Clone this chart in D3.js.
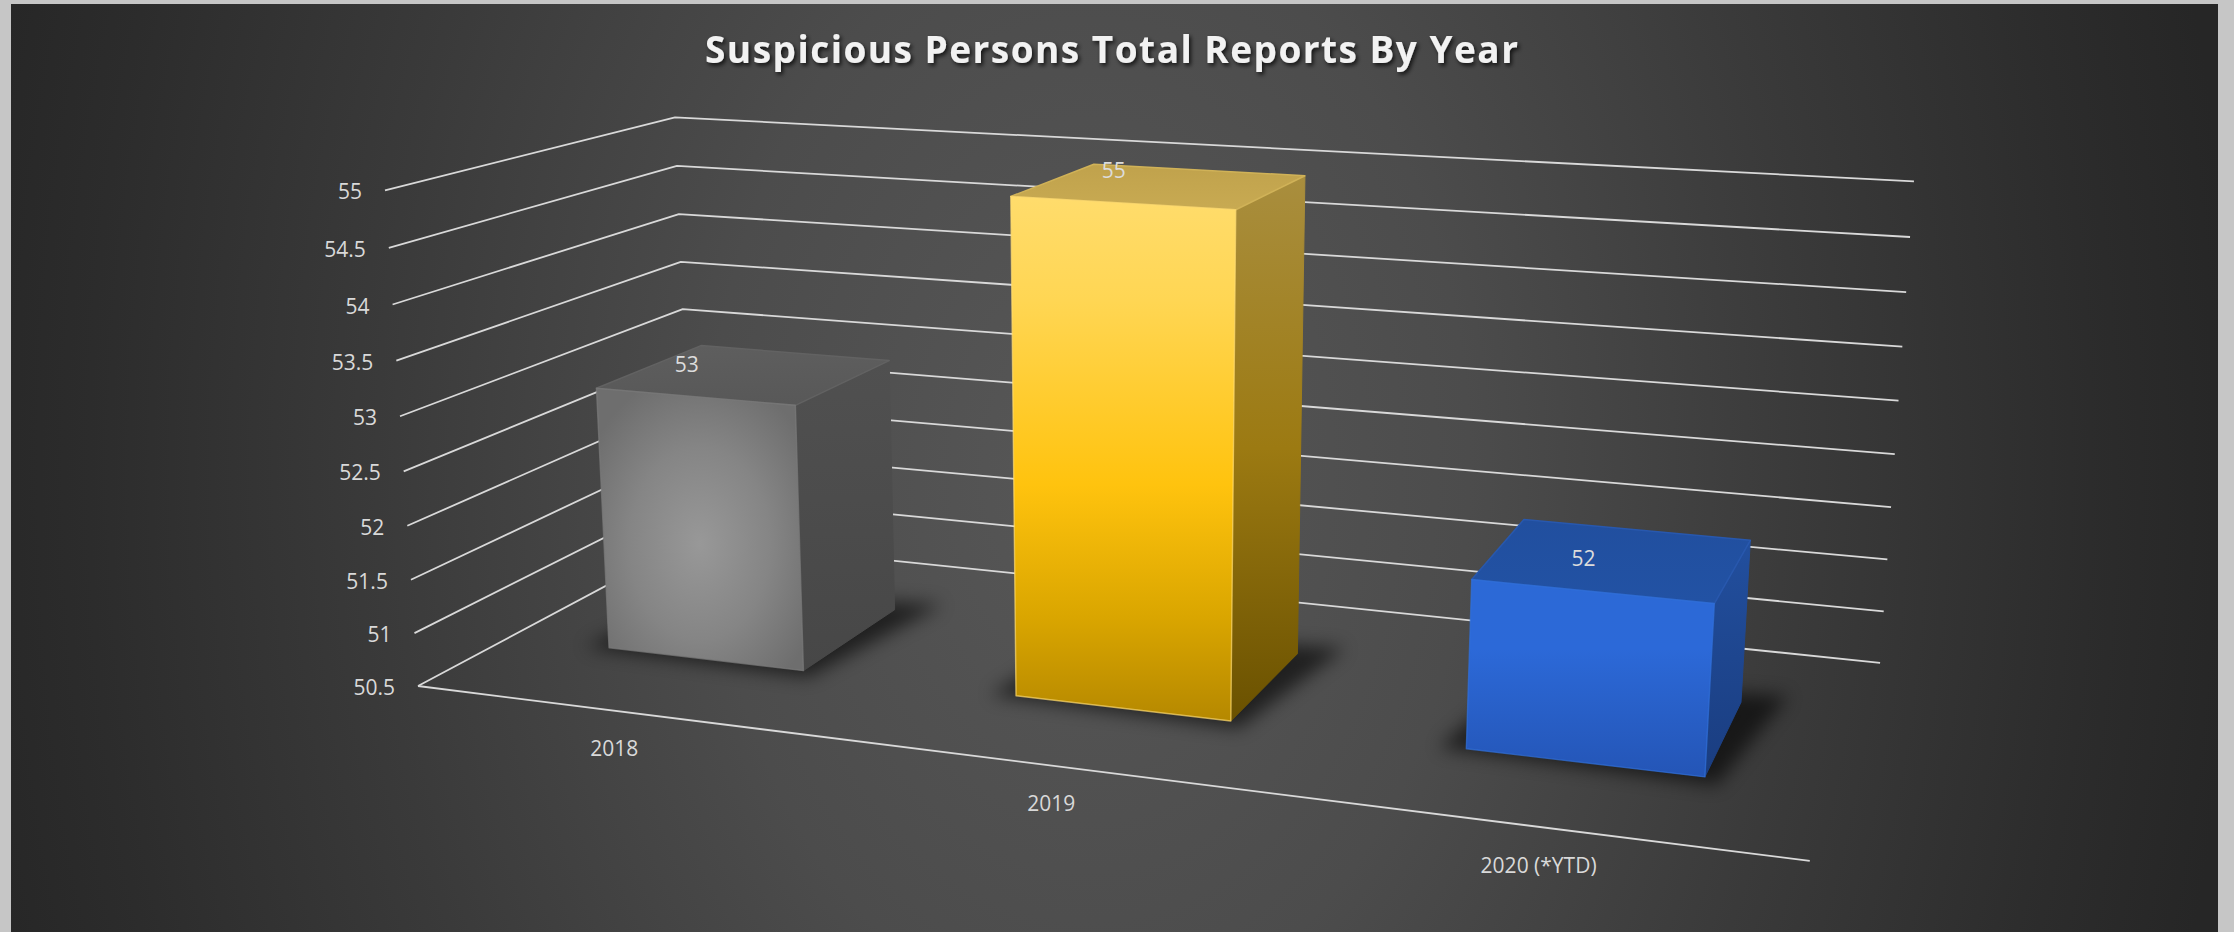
<!DOCTYPE html>
<html>
<head>
<meta charset="utf-8">
<script src="https://cdn.jsdelivr.net/npm/d3@7"></script>
<style>
  html, body { margin: 0; padding: 0; background: #c6c6c6; overflow: hidden; }
  svg { display: block; }
</style>
</head>
<body>
<svg id="chart" width="2234" height="932"></svg>
<script>
// ---- data ----
const categories = ["2018", "2019", "2020 (*YTD)"];
const reports = [53, 55, 52];
const valueTicks = [50.5, 51, 51.5, 52, 52.5, 53, 53.5, 54, 54.5, 55];
const seriesName = ["Reports"];
const chartTitle = "Suspicious Persons Total Reports By Year";

// ---- 3D view ----
// 3x4 perspective camera matrix: maps unit-cube coordinates
// (category, value, depth) to screen pixels.
const camera = [
  [1119.8, -50.1, 398.9, 418],
  [45.5, -504.0, -48.7, 686],
  [-0.15029, -0.0444, 0.1804, 1]
];
function project([X, Y, Z]) {
  const v = [X, Y, Z, 1];
  const dot = r => r[0] * v[0] + r[1] * v[1] + r[2] * v[2] + r[3] * v[3];
  const w = dot(camera[2]);
  return [dot(camera[0]) / w, dot(camera[1]) / w];
}
const pts = list => list.map(p => project(p).join(",")).join(" ");

// ---- scales ----
const x = d3.scaleBand().domain(categories).range([0, 1])
  .paddingInner(0.51).paddingOuter(0.255);
const y = d3.scaleLinear().domain([50.5, 55]).range([0, 1]);
const z = d3.scaleBand().domain(seriesName).range([0, 1])
  .paddingInner(0).paddingOuter(0.78);

const svg = d3.select("#chart");
const defs = svg.append("defs");

// ---- background ----
const bg = defs.append("radialGradient").attr("id", "bgGrad")
  .attr("gradientUnits", "userSpaceOnUse")
  .attr("cx", 1090).attr("cy", 470).attr("r", 1150)
  .attr("gradientTransform", "translate(1090,470) scale(1,1.45) translate(-1090,-470)");
[[0, "#575757"], [0.33, "#4c4c4c"], [0.62, "#3a3a3a"], [0.87, "#2c2c2c"], [1, "#262626"]]
  .forEach(([o, c]) => bg.append("stop").attr("offset", o).attr("stop-color", c));

svg.append("rect").attr("x", 11).attr("y", 4).attr("width", 2207).attr("height", 940)
  .attr("fill", "url(#bgGrad)");

// ---- filters ----
const blur = defs.append("filter").attr("id", "floorShadow")
  .attr("x", "-50%").attr("y", "-50%").attr("width", "200%").attr("height", "200%");
blur.append("feGaussianBlur").attr("stdDeviation", 9);

const ts = defs.append("filter").attr("id", "titleShadow")
  .attr("x", "-10%").attr("y", "-50%").attr("width", "120%").attr("height", "200%");
ts.append("feDropShadow").attr("dx", 2).attr("dy", 2.5).attr("stdDeviation", 2)
  .attr("flood-color", "#000").attr("flood-opacity", 0.75);

// ---- face gradients ----
function linear(id, stops, x2 = 0, y2 = 1) {
  const g = defs.append("linearGradient").attr("id", id)
    .attr("x1", 0).attr("y1", 0).attr("x2", x2).attr("y2", y2);
  stops.forEach(([o, c]) => g.append("stop").attr("offset", o).attr("stop-color", c));
}
const gr = defs.append("radialGradient").attr("id", "grayFront")
  .attr("cx", "50%").attr("cy", "55%").attr("r", "62%");
[[0, "#989898"], [0.55, "#858585"], [1, "#6e6e6e"]]
  .forEach(([o, c]) => gr.append("stop").attr("offset", o).attr("stop-color", c));
linear("graySide", [[0, "#505050"], [1, "#474747"]]);
linear("grayTop", [[0, "#5e5e5e"], [1, "#585858"]]);

linear("goldFront", [[0, "#ffdc6c"], [0.2, "#ffd653"], [0.55, "#ffc30e"], [0.8, "#daa600"], [1, "#b58800"]]);
linear("goldSide", [[0, "#a98e3e"], [0.5, "#9c7a12"], [1, "#6a5100"]]);
linear("goldTop", [[0, "#c0a24c"], [1, "#c8aa52"]]);

linear("blueFront", [[0, "#2c69d6"], [0.35, "#2c69d8"], [1, "#2455b6"]]);
linear("blueSide", [[0, "#224f9e"], [1, "#1a3d80"]]);
linear("blueTop", [[0, "#214f9f"], [1, "#2252a4"]]);

const barStyles = [
  { front: "url(#grayFront)", side: "url(#graySide)", top: "url(#grayTop)", rim: "#7a7a7a", topRim: "#626262" },
  { front: "url(#goldFront)", side: "url(#goldSide)", top: "url(#goldTop)", rim: "#ffdb70", topRim: "#d0b258" },
  { front: "url(#blueFront)", side: "url(#blueSide)", top: "url(#blueTop)", rim: "#3070dc", topRim: "#2858ae" }
];

// ---- walls: value gridlines along side wall and back wall ----
const grid = svg.append("g").attr("fill", "none").attr("stroke", "#d9d9d9")
  .attr("stroke-width", 1.8).attr("stroke-linejoin", "round");
grid.selectAll("polyline").data(valueTicks).join("polyline")
  .attr("points", t => pts([[0, y(t), 0], [0, y(t), 1], [1, y(t), 1]]));

// value axis labels
svg.append("g").selectAll("text").data(valueTicks).join("text")
  .attr("x", t => project([0, y(t), 0])[0] - 23)
  .attr("y", t => project([0, y(t), 0])[1] + 1)
  .attr("text-anchor", "end").attr("dominant-baseline", "central")
  .attr("font-family", "'Open Sans', 'Noto Sans', sans-serif").attr("font-size", 21)
  .attr("fill", "#d9d9d9")
  .text(t => d3.format("~g")(t));

// ---- bars ----
const bars = categories.map((c, i) => {
  const x0 = x(c), x1 = x(c) + x.bandwidth();
  const z0 = z(seriesName[0]), z1 = z(seriesName[0]) + z.bandwidth();
  const h = y(reports[i]);
  return { c, i, x0, x1, z0, z1, h, v: reports[i] };
});

const barG = svg.append("g");
// soft contact shadow on the floor
barG.selectAll("polygon.shadow").data(bars).join("polygon").attr("class", "shadow")
  .attr("points", b => pts([[b.x0 - 0.018, 0, b.z0 - 0.01], [b.x1 + 0.01, 0, b.z0 - 0.03],
    [b.x1 + 0.03, 0, b.z1 + 0.06], [b.x0, 0, b.z1]]))
  .attr("fill", "#000").attr("opacity", 0.6).attr("filter", "url(#floorShadow)");

const faces = barG.selectAll("g.bar").data(bars).join("g").attr("class", "bar");
// right side
faces.append("polygon")
  .attr("points", b => pts([[b.x1, 0, b.z0], [b.x1, 0, b.z1], [b.x1, b.h, b.z1], [b.x1, b.h, b.z0]]))
  .attr("fill", b => barStyles[b.i].side)
  .attr("stroke", b => barStyles[b.i].side).attr("stroke-width", 1);
// top
faces.append("polygon")
  .attr("points", b => pts([[b.x0, b.h, b.z0], [b.x1, b.h, b.z0], [b.x1, b.h, b.z1], [b.x0, b.h, b.z1]]))
  .attr("fill", b => barStyles[b.i].top)
  .attr("stroke", b => barStyles[b.i].topRim).attr("stroke-width", 1.5)
  .attr("stroke-linejoin", "round");
// front
faces.append("polygon")
  .attr("points", b => pts([[b.x0, 0, b.z0], [b.x1, 0, b.z0], [b.x1, b.h, b.z0], [b.x0, b.h, b.z0]]))
  .attr("fill", b => barStyles[b.i].front)
  .attr("stroke", b => barStyles[b.i].rim).attr("stroke-width", 1.4)
  .attr("stroke-opacity", 0.7)
  .attr("stroke-linejoin", "round");

// value labels above each bar
svg.append("g").selectAll("text").data(bars).join("text")
  .attr("x", b => project([(b.x0 + b.x1) / 2, b.h, b.z0])[0] - 8)
  .attr("y", b => project([(b.x0 + b.x1) / 2, b.h, b.z0])[1] - 33)
  .attr("text-anchor", "middle").attr("dominant-baseline", "central")
  .attr("font-family", "'Open Sans', 'Noto Sans', sans-serif").attr("font-size", 21)
  .attr("fill", "#dcdcdc")
  .text(b => b.v);

// ---- floor front edge (category axis) ----
svg.append("line")
  .attr("x1", project([0, 0, 0])[0]).attr("y1", project([0, 0, 0])[1])
  .attr("x2", project([1, 0, 0])[0]).attr("y2", project([1, 0, 0])[1])
  .attr("stroke", "#d9d9d9").attr("stroke-width", 1.8);

svg.append("g").selectAll("text").data(categories).join("text")
  .attr("x", c => project([x(c) + x.bandwidth() / 2, 0, 0])[0] - 6)
  .attr("y", c => project([x(c) + x.bandwidth() / 2, 0, 0])[1] + 37)
  .attr("text-anchor", "middle").attr("dominant-baseline", "central")
  .attr("font-family", "'Open Sans', 'Noto Sans', sans-serif").attr("font-size", 21)
  .attr("fill", "#d9d9d9")
  .text(c => c);

// ---- title ----
svg.append("text")
  .attr("x", 705).attr("y", 63)
  .attr("textLength", 813).attr("lengthAdjust", "spacing")
  .attr("font-family", "'Open Sans', 'Noto Sans', sans-serif").attr("font-weight", 700)
  .attr("font-size", 37).attr("fill", "#f2f2f2")
  .attr("filter", "url(#titleShadow)")
  .text(chartTitle);
</script>
</body>
</html>
